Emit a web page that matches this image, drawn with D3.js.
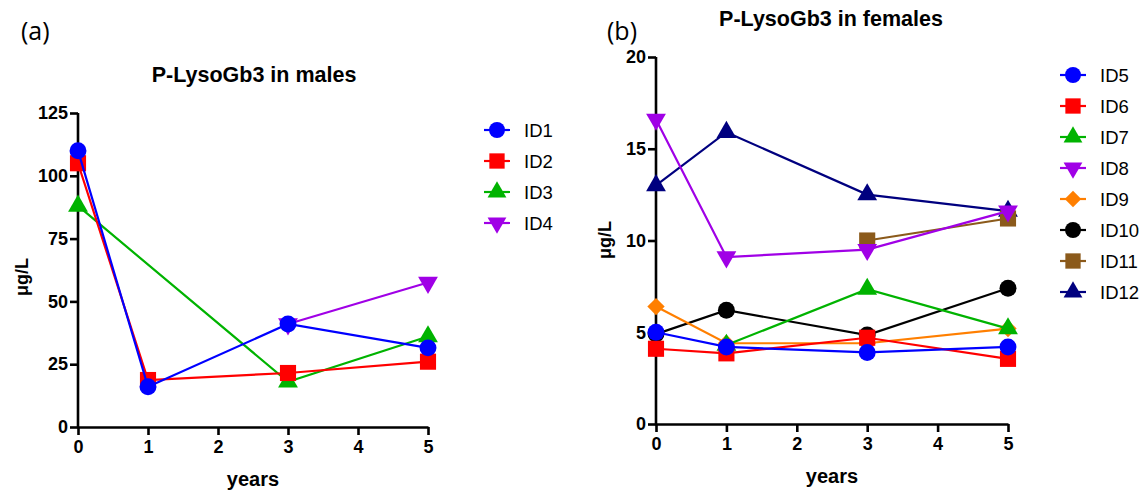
<!doctype html>
<html>
<head>
    <meta charset="utf-8">
    <title>P-LysoGb3</title>
    <style>
        body { margin: 0; background: #fff; }
        text { font-family: "Liberation Sans", Arial, sans-serif; }
    </style>
</head>
<body>
    <script src="https://d3js.org/d3.v7.min.js"></script>
    <script>
        // time points (years)
        var years = [0, 1, 3, 5];

        // males
        var maleIds = ["ID1", "ID2", "ID3", "ID4"];
        var id1 = [110, 16, 41, 31.5];
        var id2 = [105, 18.7, 21.5, 26];
        var id3 = [88, null, 18, 36];
        var id4 = [null, null, 41, 57.5];
        var maleYTicks = [0, 25, 50, 75, 100, 125];

        // females
        var femaleIds = ["ID5", "ID6", "ID7", "ID8", "ID9", "ID10", "ID11", "ID12"];
        var id5 = [5.0, 4.2, 3.9, 4.2];
        var id6 = [4.1, 3.85, 4.7, 3.55];
        var id7 = [null, 4.3, 7.35, 5.2];
        var id8 = [16.6, 9.1, 9.5, 11.6];
        var id9 = [6.4, 4.4, 4.4, 5.2];
        var id10 = [4.9, 6.2, 4.85, 7.4];
        var id11 = [null, null, 10.0, 11.2];
        var id12 = [13.0, 15.9, 12.5, 11.6];
        var femaleYTicks = [0, 5, 10, 15, 20];
        var xTicks = [0, 1, 2, 3, 4, 5];

        var w = 1144, h = 490;

        var svg = d3.select("body")
            .append("svg")
            .attr("width", w)
            .attr("height", h);

        // marker shapes
        var shapes = {
            circle: { type: d3.symbolCircle, size: 225, rot: 0 },
            square: { type: d3.symbolSquare, size: 260, rot: 0 },
            up: { type: d3.symbolTriangle, size: 170, rot: 0 },
            down: { type: d3.symbolTriangle, size: 170, rot: 180 },
            diamond: { type: d3.symbolSquare, size: 150, rot: 45 }
        };

        function drawPanel(opt) {
            var g = svg.append("g");

            var x = d3.scaleLinear().domain([0, 5]).range([opt.left, opt.right]);
            var y = d3.scaleLinear().domain([0, opt.ymax]).range([opt.bottom, opt.top]);

            // axes
            var xAxis = g.append("g")
                .attr("transform", "translate(0," + opt.bottom + ")")
                .call(d3.axisBottom(x).tickValues(xTicks).tickFormat(d3.format("d"))
                    .tickSize(8).tickPadding(5).tickSizeOuter(0));
            var yAxis = g.append("g")
                .attr("transform", "translate(" + opt.left + ",0)")
                .call(d3.axisLeft(y).tickValues(opt.yticks).tickFormat(d3.format("d"))
                    .tickSize(8).tickPadding(2).tickSizeOuter(0));

            [xAxis, yAxis].forEach(function (a) {
                a.select(".domain").attr("stroke", "#000").attr("stroke-width", 2.6);
                a.selectAll(".tick line").attr("stroke", "#000").attr("stroke-width", 2.6);
                a.selectAll(".tick text")
                    .attr("fill", "#000")
                    .style("font-size", "18px")
                    .style("font-weight", "bold");
            });
            // extend y domain to cover x axis stroke
            yAxis.select(".domain").attr("d", "M0," + (opt.bottom + 1.3) + "V" + opt.top);

            // draw last series first so earlier IDs sit on top
            opt.series.slice().reverse().forEach(function (s) {
                var pts = s.values.map(function (v, i) { return { t: years[i], v: v }; })
                    .filter(function (p) { return p.v != null; });
                g.append("path")
                    .datum(pts)
                    .attr("fill", "none")
                    .attr("stroke", s.color)
                    .attr("stroke-width", 2.2)
                    .attr("d", d3.line().x(function (p) { return x(p.t); }).y(function (p) { return y(p.v); }));
                var sh = shapes[s.shape];
                g.selectAll(null)
                    .data(pts)
                    .enter()
                    .append("path")
                    .attr("d", d3.symbol().type(sh.type).size(sh.size))
                    .attr("transform", function (p) {
                        return "translate(" + x(p.t) + "," + y(p.v) + ") rotate(" + sh.rot + ")";
                    })
                    .attr("fill", s.color);
            });

            // title
            g.append("text")
                .attr("x", opt.titleX).attr("y", opt.titleY)
                .attr("text-anchor", "middle")
                .style("font-size", "21.5px").style("font-weight", "bold")
                .text(opt.title);

            // axis titles
            g.append("text")
                .attr("x", (opt.left + opt.right) / 2).attr("y", opt.bottom + 59)
                .attr("text-anchor", "middle")
                .style("font-size", "20px").style("font-weight", "bold")
                .text("years");
            g.append("text")
                .attr("transform", "translate(" + opt.ylabX + "," + opt.ylabY + ") rotate(-90)")
                .attr("text-anchor", "middle")
                .style("font-size", "18px").style("font-weight", "bold")
                .text("μg/L");

            // panel letter
            g.append("text")
                .attr("x", opt.letterX).attr("y", 40)
                .style("font-family", "'Open Sans', sans-serif")
                .style("font-size", "25px")
                .text(opt.letter);

            // legend
            var leg = g.append("g");
            opt.series.forEach(function (s, i) {
                var ly = opt.legTop + i * opt.legStep;
                var sh = shapes[s.shape];
                leg.append("line")
                    .attr("x1", opt.legX - 13).attr("x2", opt.legX + 13)
                    .attr("y1", ly).attr("y2", ly)
                    .attr("stroke", s.color).attr("stroke-width", 2.2);
                leg.append("path")
                    .attr("d", d3.symbol().type(sh.type).size(sh.size * 0.9))
                    .attr("transform", "translate(" + opt.legX + "," + ly + ") rotate(" + sh.rot + ")")
                    .attr("fill", s.color);
                leg.append("text")
                    .attr("x", opt.legX + 27).attr("y", ly)
                    .attr("dy", "0.36em")
                    .style("font-size", "18.5px")
                    .text(s.name);
            });
        }

        drawPanel({
            left: 78, right: 428, top: 113, bottom: 427, ymax: 125,
            yticks: maleYTicks,
            title: "P-LysoGb3 in males", titleX: 254, titleY: 82,
            ylabX: 28, ylabY: 277,
            letter: "(a)", letterX: 21,
            legX: 497, legTop: 130, legStep: 31,
            series: [
                { name: maleIds[0], values: id1, color: "#0000ff", shape: "circle" },
                { name: maleIds[1], values: id2, color: "#ff0000", shape: "square" },
                { name: maleIds[2], values: id3, color: "#00b300", shape: "up" },
                { name: maleIds[3], values: id4, color: "#a000e6", shape: "down" }
            ]
        });

        drawPanel({
            left: 656, right: 1008, top: 57, bottom: 424, ymax: 20,
            yticks: femaleYTicks,
            title: "P-LysoGb3 in females", titleX: 831, titleY: 26,
            ylabX: 611, ylabY: 240,
            letter: "(b)", letterX: 607,
            legX: 1073, legTop: 75, legStep: 31,
            series: [
                { name: femaleIds[0], values: id5, color: "#0000ff", shape: "circle" },
                { name: femaleIds[1], values: id6, color: "#ff0000", shape: "square" },
                { name: femaleIds[2], values: id7, color: "#00b300", shape: "up" },
                { name: femaleIds[3], values: id8, color: "#a000e6", shape: "down" },
                { name: femaleIds[4], values: id9, color: "#ff7f00", shape: "diamond" },
                { name: femaleIds[5], values: id10, color: "#000000", shape: "circle" },
                { name: femaleIds[6], values: id11, color: "#8b5a1b", shape: "square" },
                { name: femaleIds[7], values: id12, color: "#00007f", shape: "up" }
            ]
        });
    </script>
</body>
</html>
